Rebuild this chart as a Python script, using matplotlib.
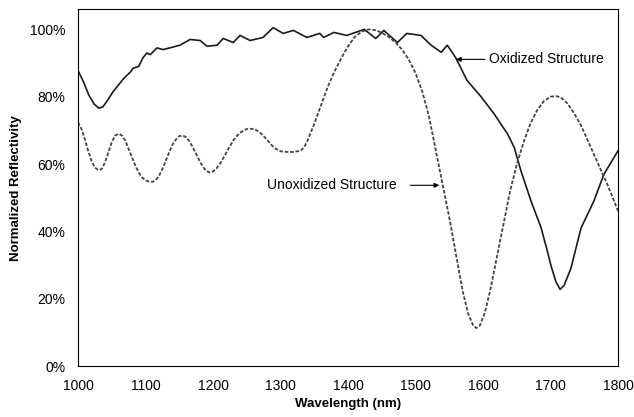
import matplotlib.pyplot as plt
from matplotlib.ticker import PercentFormatter

plt.rcParams['font.family'] = ['Liberation Sans', 'DejaVu Sans']

# oxidized structure (solid line)
wl_ox = [1000, 1008, 1016, 1024, 1031, 1037, 1044, 1052, 1060, 1068, 1077, 1082, 1090, 1096,
         1102, 1107, 1117, 1126, 1136, 1151, 1166, 1181, 1191, 1206, 1215, 1230, 1240, 1255,
         1274, 1289, 1304, 1319, 1339, 1358, 1364, 1379, 1398, 1424, 1441, 1453,
         1473, 1487, 1508, 1523, 1538, 1547, 1560, 1576, 1597, 1616, 1636, 1646,
         1656, 1671, 1686, 1694, 1701, 1708, 1714, 1720, 1730, 1745, 1764, 1779, 1800]
r_ox = [0.878, 0.845, 0.805, 0.778, 0.766, 0.77, 0.79, 0.815, 0.835, 0.855, 0.872, 0.885, 0.89, 0.915,
        0.93, 0.925, 0.945, 0.94, 0.945, 0.953, 0.97, 0.967, 0.95, 0.953, 0.973, 0.961, 0.982, 0.967,
        0.976, 1.005, 0.988, 0.997, 0.976, 0.988, 0.976, 0.991, 0.982, 1.0, 0.973, 0.997,
        0.961, 0.988, 0.982, 0.953, 0.932, 0.953, 0.914, 0.849, 0.80, 0.75, 0.69, 0.65,
        0.58, 0.49, 0.41, 0.35, 0.295, 0.25, 0.228, 0.24, 0.29, 0.41, 0.49, 0.57, 0.64]

# unoxidized structure (dotted line)
wl_un = [1000, 1005, 1010, 1015, 1020, 1025, 1030, 1035, 1040, 1045, 1050, 1055, 1060,
         1065, 1070, 1075, 1080, 1085, 1090, 1095, 1100, 1105, 1110, 1115, 1120, 1125,
         1130, 1135, 1140, 1145, 1150, 1155, 1160, 1165, 1170, 1175, 1180, 1185, 1190,
         1195, 1200, 1205, 1210, 1215, 1220, 1225, 1230, 1235, 1240, 1245, 1250, 1255,
         1260, 1265, 1270, 1275, 1280, 1285, 1290, 1295, 1300, 1310, 1320, 1330, 1335,
         1340, 1345, 1350, 1360, 1370, 1380, 1390, 1400, 1410, 1420, 1430, 1440, 1450,
         1460, 1470, 1480, 1490, 1500, 1510, 1520, 1530, 1540, 1550, 1560, 1570, 1578,
         1585, 1590, 1595, 1602, 1610, 1620, 1630, 1640, 1650, 1660, 1670, 1680, 1690,
         1700, 1708, 1715, 1725, 1735, 1745, 1755, 1765, 1775, 1785, 1792, 1800]
r_un = [0.724, 0.705, 0.675, 0.64, 0.61, 0.59, 0.582, 0.585, 0.605, 0.635, 0.665, 0.685, 0.69,
        0.685, 0.67, 0.645, 0.62, 0.595, 0.575, 0.56, 0.552, 0.548, 0.547, 0.552, 0.565, 0.585,
        0.61, 0.635, 0.658, 0.673, 0.683, 0.685, 0.68, 0.668, 0.65, 0.63, 0.61, 0.592, 0.58,
        0.575, 0.578, 0.587, 0.60, 0.617, 0.635, 0.653, 0.67, 0.683, 0.693, 0.70, 0.704, 0.705,
        0.704, 0.70, 0.693, 0.683, 0.672, 0.66, 0.65, 0.643, 0.638, 0.636, 0.636, 0.64, 0.65,
        0.67, 0.695, 0.72, 0.775, 0.83, 0.875, 0.915, 0.95, 0.978, 0.993, 1.0, 0.998, 0.99,
        0.978, 0.962, 0.94, 0.91, 0.87, 0.815, 0.74, 0.64, 0.54, 0.44, 0.33, 0.22, 0.155,
        0.122, 0.113, 0.12, 0.155, 0.22, 0.32, 0.42, 0.52, 0.60, 0.665, 0.72, 0.76, 0.787,
        0.80, 0.802, 0.798, 0.78, 0.75, 0.715, 0.67, 0.625, 0.58, 0.535, 0.50, 0.46]

fig = plt.figure(figsize=(6.34, 4.17), dpi=100)
ax = fig.add_axes([0.123, 0.122, 0.852, 0.856])

ax.plot(wl_ox, r_ox, color='#1a1a1a', lw=1.2)
ax.plot(wl_un, r_un, color='#444444', lw=1.3, linestyle=(0, (2, 1)))

ax.set_xlim(1000, 1800)
ax.set_ylim(0, 1.06)
ax.set_xticks(range(1000, 1801, 100))
ax.set_yticks([0, 0.2, 0.4, 0.6, 0.8, 1.0])
ax.yaxis.set_major_formatter(PercentFormatter(1.0, decimals=0))
ax.tick_params(length=0, labelsize=10, pad=9)

ax.set_xlabel('Wavelength (nm)', fontsize=9.5, fontweight='bold', labelpad=4)
ax.set_ylabel('Normalized Reflectivity', fontsize=9.5, fontweight='bold', labelpad=6)

arrow = dict(arrowstyle='-|>', lw=0.8, color='black', mutation_scale=7, shrinkA=1, shrinkB=0)
ax.annotate('Oxidized Structure', xy=(1560, 0.911), xytext=(1609, 0.911),
            fontsize=10, va='center', arrowprops=arrow)
ax.text(1280, 0.537, 'Unoxidized Structure', fontsize=10, va='center')
ax.annotate('', xy=(1535, 0.537), xytext=(1490, 0.537), arrowprops=arrow)

plt.savefig('out.png', dpi=100)
